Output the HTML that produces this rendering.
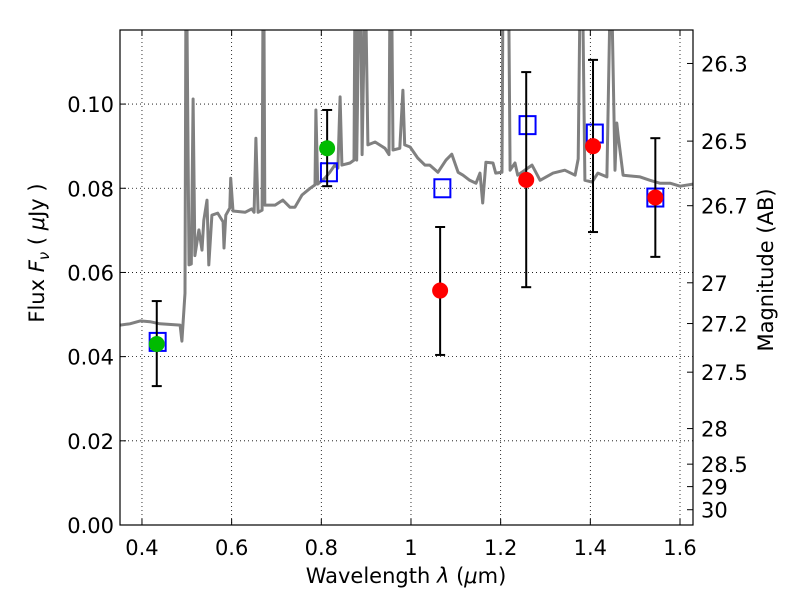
<!DOCTYPE html>
<html><head><meta charset="utf-8"><style>
body{margin:0;background:#fff;}
svg text{font-family:"DejaVu Sans","Liberation Sans",sans-serif;font-size:21px;fill:#000;}
</style></head><body>
<svg id="chart" width="800" height="600">
<g id="grid"></g>
<g id="spec"></g>
<g id="marks"></g>
<g id="axes"></g>
</svg>
<script>
const waves=[0.351,0.373,0.396,0.418,0.440,0.485,0.489,0.496,0.498,0.500,0.505,0.510,0.514,0.518,0.527,0.534,0.538,0.545,0.549,0.556,0.569,0.581,0.583,0.587,0.596,0.598,0.603,0.630,0.645,0.650,0.654,0.659,0.668,0.670,0.672,0.674,0.697,0.714,0.730,0.741,0.757,0.775,0.786,0.788,0.792,0.808,0.819,0.830,0.837,0.842,0.846,0.864,0.873,0.875,0.877,0.879,0.884,0.888,0.891,0.897,0.899,0.904,0.920,0.942,0.951,0.953,0.957,0.960,0.975,0.982,0.986,0.998,1.015,1.031,1.042,1.060,1.078,1.091,1.105,1.116,1.131,1.145,1.154,1.160,1.167,1.183,1.189,1.203,1.205,1.218,1.221,1.232,1.238,1.270,1.288,1.317,1.343,1.366,1.373,1.377,1.383,1.388,1.404,1.417,1.437,1.444,1.448,1.455,1.459,1.462,1.473,1.511,1.533,1.555,1.578,1.600,1.629];
const fluxes=[0.0475,0.0478,0.0485,0.0483,0.0478,0.0475,0.0437,0.0551,0.14,0.14,0.0618,0.0620,0.1012,0.0640,0.0701,0.0653,0.0724,0.0772,0.0618,0.0736,0.0741,0.0720,0.0658,0.0736,0.0753,0.0824,0.0746,0.0743,0.0751,0.0743,0.0919,0.0743,0.0748,0.14,0.14,0.0760,0.0760,0.0772,0.0755,0.0755,0.0784,0.0800,0.0808,0.0986,0.0810,0.0824,0.0838,0.0855,0.0848,0.1017,0.0855,0.0860,0.0867,0.14,0.14,0.0867,0.14,0.14,0.088,0.14,0.14,0.0903,0.0910,0.0895,0.0880,0.14,0.14,0.0891,0.0895,0.1033,0.0903,0.0898,0.0872,0.0855,0.0855,0.0838,0.0867,0.0881,0.0838,0.0831,0.0819,0.0812,0.0836,0.0765,0.0862,0.0860,0.0836,0.0838,0.14,0.14,0.0843,0.0860,0.0831,0.0855,0.0819,0.0836,0.0843,0.0831,0.0870,0.14,0.14,0.0819,0.0815,0.0836,0.0827,0.14,0.14,0.0843,0.0955,0.0926,0.0831,0.0827,0.0819,0.0812,0.0812,0.0805,0.0810];
const greenX=[0.433,0.813];
const greenY=[0.0430,0.0895];
const greenLo=[0.0330,0.0805];
const greenHi=[0.0532,0.0986];
const redX=[1.065,1.257,1.406,1.545];
const redY=[0.0557,0.0820,0.0900,0.0778];
const redLo=[0.0404,0.0565,0.0696,0.0637];
const redHi=[0.0708,0.1076,0.1105,0.0919];
const boxX=[0.435,0.817,1.070,1.260,1.410,1.545];
const boxY=[0.0435,0.0838,0.0800,0.0950,0.0930,0.0778];
const xTicks=[0.4,0.6,0.8,1.0,1.2,1.4,1.6];
const xTickLabels=["0.4","0.6","0.8","1","1.2","1.4","1.6"];
const yTicks=[0,0.02,0.04,0.06,0.08,0.10];
const yTickLabels=["0.00","0.02","0.04","0.06","0.08","0.10"];
const magTicks=[26.3,26.5,26.7,27,27.2,27.5,28,28.5,29,30];
const magLabels=["26.3","26.5","26.7","27","27.2","27.5","28","28.5","29","30"];

const L=120,R=693,T=30,B=525;
const xmin=0.351,xmax=1.629,ymin=0,ymax=0.1176;
const sx=v=>L+(v-xmin)/(xmax-xmin)*(R-L);
const sy=v=>B-(v-ymin)/(ymax-ymin)*(B-T);
const NS="http://www.w3.org/2000/svg";
function mk(parent,tag,attrs){const e=document.createElementNS(NS,tag);for(const k in attrs)e.setAttribute(k,attrs[k]);document.getElementById(parent).appendChild(e);return e;}

xTicks.forEach((t,i)=>{const x=sx(t);
 const g=mk('grid','line',{x1:x,x2:x,y1:T,y2:B,stroke:'#000','stroke-width':0.8,'stroke-dasharray':'1,3'});
 
 mk('axes','line',{x1:x,x2:x,y1:B,y2:B-6,stroke:'#000'});
 mk('axes','line',{x1:x,x2:x,y1:T,y2:T+6,stroke:'#000'});
 const tx=mk('axes','text',{x:x,y:B+30,'text-anchor':'middle'});tx.textContent=xTickLabels[i];
 
});
yTicks.forEach((t,i)=>{const y=sy(t);
 const g=mk('grid','line',{x1:L,x2:R,y1:y,y2:y,stroke:'#000','stroke-width':0.8,'stroke-dasharray':'1,3'});
 
 mk('axes','line',{x1:L,x2:L+6,y1:y,y2:y,stroke:'#000'});
 const tx=mk('axes','text',{x:L-6,y:y+8,'text-anchor':'end'});tx.textContent=yTickLabels[i];
 
});
magTicks.forEach((m,i)=>{const f=Math.pow(10,-(m-23.9)/2.5);const y=sy(f);
 mk('axes','line',{x1:R-6,x2:R,y1:y,y2:y,stroke:'#000'});
 const tx=mk('axes','text',{x:R+8,y:y+8});tx.textContent=magLabels[i];
 
});

const d=waves.map((w,i)=>(i?'L':'M')+sx(w).toFixed(1)+','+sy(Math.min(fluxes[i],0.125)).toFixed(1)).join('');
const clip=mk('spec','clipPath',{id:'pc'});
const cr=document.createElementNS(NS,'rect');cr.setAttribute('x',L);cr.setAttribute('y',T);cr.setAttribute('width',R-L);cr.setAttribute('height',B-T);clip.appendChild(cr);
const sp=mk('spec','path',{d:d,fill:'none',stroke:'#808080','stroke-width':3,'clip-path':'url(#pc)','stroke-linejoin':'round'});


function errbar(x,lo,hi){const X=sx(x);
 mk('marks','line',{x1:X,x2:X,y1:sy(lo),y2:sy(hi),stroke:'#000','stroke-width':2});
 mk('marks','line',{x1:X-5,x2:X+5,y1:sy(lo),y2:sy(lo),stroke:'#000','stroke-width':2});
 mk('marks','line',{x1:X-5,x2:X+5,y1:sy(hi),y2:sy(hi),stroke:'#000','stroke-width':2});}
boxX.forEach((x,i)=>{const b=mk('marks','rect',{x:sx(x)-8,y:sy(boxY[i])-9,width:16,height:18,fill:'none',stroke:'#0000ff','stroke-width':2});
 });
greenX.forEach((x,i)=>{errbar(x,greenLo[i],greenHi[i]);
 const c=mk('marks','circle',{cx:sx(x),cy:sy(greenY[i]),r:8,fill:'#00bb00'});
 });
redX.forEach((x,i)=>{errbar(x,redLo[i],redHi[i]);
 const c=mk('marks','circle',{cx:sx(x),cy:sy(redY[i]),r:8,fill:'#ff0000'});
 });

const fr=mk('axes','rect',{x:L,y:T,width:R-L,height:B-T,fill:'none',stroke:'#000','stroke-width':1.2});

</script>
<svg width="800" height="600" style="position:absolute;left:0;top:0">
<text x="406" y="583" text-anchor="middle">Wavelength  <tspan font-style="italic">λ</tspan> (<tspan font-style="italic">μ</tspan>m)</text>
<text transform="translate(44,253) rotate(-90)" text-anchor="middle">Flux  <tspan font-style="italic">F</tspan><tspan font-style="italic" font-size="15" dy="5">ν</tspan><tspan dy="-5">  (  </tspan><tspan font-style="italic">μ</tspan>Jy )</text>
<text transform="translate(773,270) rotate(-90)" text-anchor="middle">Magnitude (AB)</text>
</svg>
</body></html>
